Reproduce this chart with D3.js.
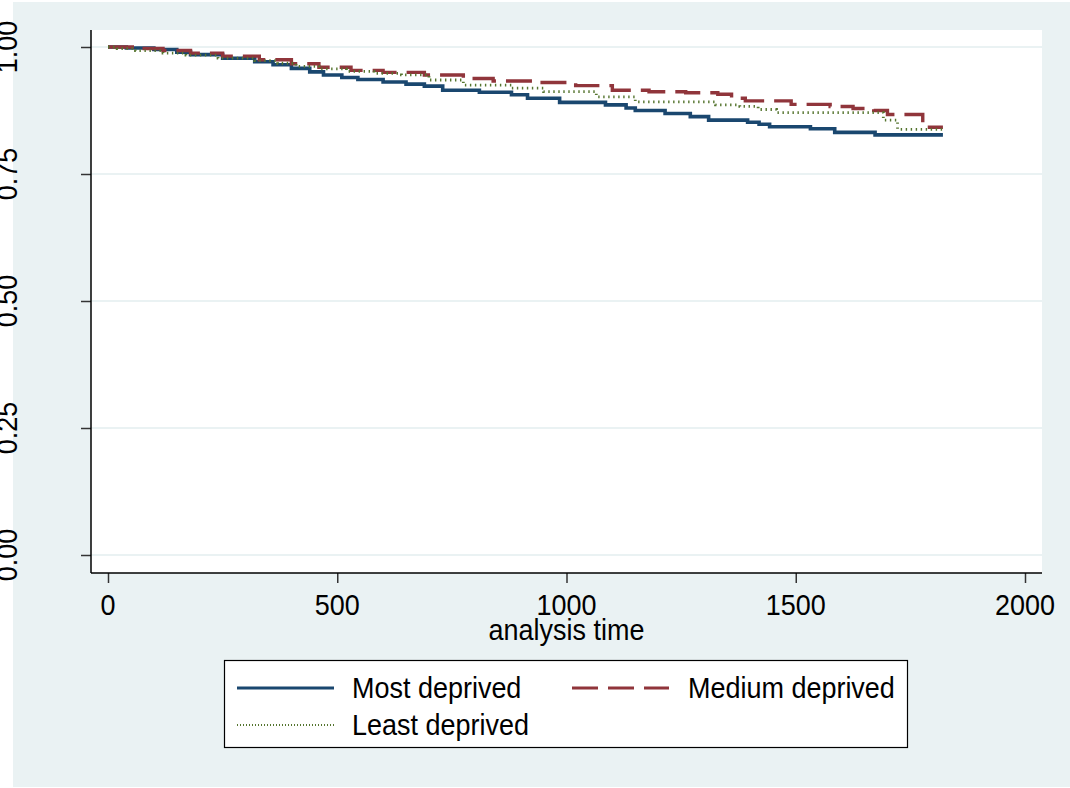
<!DOCTYPE html>
<html>
<head>
<meta charset="utf-8">
<script src="https://cdn.jsdelivr.net/npm/d3@7/dist/d3.min.js"></script>
<style>
  html, body { margin: 0; padding: 0; background: #ffffff; }
  svg { display: block; }
  text { font-family: "Liberation Sans", Arial, sans-serif; fill: #000; }
</style>
</head>
<body>
<svg id="chart" width="1070" height="788"></svg>
<script>
// ---- Data (Kaplan-Meier step estimates) ----
const xTicks = [0, 500, 1000, 1500, 2000];
const yTicks = [0, 0.25, 0.5, 0.75, 1];
const yTickLabels = ["0.00", "0.25", "0.50", "0.75", "1.00"];
const xLabel = "analysis time";
const seriesNames = ["Most deprived", "Medium deprived", "Least deprived"];
const endTime = 1821;

const mostTime = [0, 40, 100, 150, 180, 250, 320, 360, 400, 440, 470, 510, 545, 600, 650, 690, 730, 810, 880, 915, 985, 1085, 1130, 1150, 1215, 1270, 1310, 1395, 1420, 1443, 1532, 1585, 1673];
const mostSurv = [1.0, 0.998, 0.995, 0.990, 0.985, 0.978, 0.971, 0.965, 0.958, 0.951, 0.945, 0.940, 0.936, 0.931, 0.927, 0.923, 0.915, 0.911, 0.906, 0.899, 0.891, 0.886, 0.880, 0.875, 0.869, 0.863, 0.856, 0.852, 0.848, 0.843, 0.839, 0.832, 0.827];

const medTime = [0, 60, 120, 180, 250, 330, 400, 460, 530, 600, 690, 775, 840, 930, 1020, 1100, 1180, 1260, 1330, 1360, 1390, 1490, 1575, 1625, 1670, 1700, 1777];
const medSurv = [1.0, 0.997, 0.993, 0.988, 0.982, 0.975, 0.967, 0.960, 0.954, 0.950, 0.945, 0.938, 0.933, 0.930, 0.924, 0.915, 0.912, 0.910, 0.907, 0.899, 0.894, 0.887, 0.883, 0.879, 0.875, 0.867, 0.842];

const leastTime = [0, 20, 60, 120, 170, 240, 320, 370, 410, 460, 520, 580, 640, 700, 775, 880, 950, 1065, 1150, 1325, 1378, 1418, 1458, 1691, 1722];
const leastSurv = [1.0, 0.997, 0.993, 0.988, 0.984, 0.978, 0.973, 0.968, 0.962, 0.957, 0.952, 0.948, 0.945, 0.935, 0.925, 0.919, 0.912, 0.902, 0.892, 0.886, 0.883, 0.877, 0.871, 0.856, 0.838];

// ---- Layout ----
const svg = d3.select("#chart");
const FS = 29, SX = 0.93;
const plot = { left: 91, right: 1042, top: 30, bottom: 573 };

const x = d3.scaleLinear().domain([0, 2000]).range([108, 1025]);
const y = d3.scaleLinear().domain([0, 1]).range([555, 47]);

// outer background
svg.append("rect").attr("x", 13).attr("y", 2).attr("width", 1057).attr("height", 785).attr("fill", "#eaf2f3");
// plot region
svg.append("rect").attr("x", plot.left).attr("y", plot.top)
  .attr("width", plot.right - plot.left).attr("height", plot.bottom - plot.top).attr("fill", "#ffffff");

// grid lines
svg.append("g").selectAll("line").data(yTicks).join("line")
  .attr("x1", plot.left).attr("x2", plot.right)
  .attr("y1", d => y(d)).attr("y2", d => y(d))
  .attr("stroke", "#eaf2f3").attr("stroke-width", 2);

function addText(g, str, tx, ty, anchor, rot) {
  return g.append("text")
    .attr("transform", `translate(${tx},${ty})` + (rot ? ` rotate(${rot})` : "") + ` scale(${SX},1)`)
    .attr("text-anchor", anchor)
    .style("font-size", FS + "px")
    .text(str);
}

// y axis
const yAxis = d3.axisLeft(y).tickValues(yTicks).tickSize(10).tickFormat("");
const gy = svg.append("g").attr("transform", `translate(${plot.left},0)`).call(yAxis);
gy.select(".domain").remove();
gy.selectAll(".tick line").attr("stroke", "#333").attr("stroke-width", 1.5);
svg.append("line").attr("x1", plot.left).attr("x2", plot.left).attr("y1", plot.top).attr("y2", plot.bottom)
  .attr("stroke", "#000").attr("stroke-width", 1.5);
const gyl = svg.append("g");
yTicks.forEach((v, i) => addText(gyl, yTickLabels[i], 17, y(v), "middle", -90));

// x axis
const xAxis = d3.axisBottom(x).tickValues(xTicks).tickSize(10).tickFormat("");
const gx = svg.append("g").attr("transform", `translate(0,${plot.bottom})`).call(xAxis);
gx.select(".domain").remove();
gx.selectAll(".tick line").attr("stroke", "#333").attr("stroke-width", 1.5);
svg.append("line").attr("x1", plot.left).attr("x2", plot.right).attr("y1", plot.bottom).attr("y2", plot.bottom)
  .attr("stroke", "#000").attr("stroke-width", 1.5);
const gxl = svg.append("g");
xTicks.forEach(v => addText(gxl, String(v), x(v), 615, "middle", 0));
addText(gxl, xLabel, x(1000), 640, "middle", 0);

// ---- Curves ----
const styles = [
  { color: "#1a476f", width: 3.6, dash: null },
  { color: "#90353b", width: 3.4, dash: "26,10" },
  { color: "#55752f", width: 2.8, dash: "1.4,3.6" }
];
function toPts(ts, ss) {
  const pts = ts.map((t, i) => [t, ss[i]]);
  pts.push([endTime, ss[ss.length - 1]]);
  return pts;
}
const series = [toPts(mostTime, mostSurv), toPts(medTime, medSurv), toPts(leastTime, leastSurv)];
const line = d3.line().x(d => x(d[0])).y(d => y(d[1])).curve(d3.curveStepAfter);
const gc = svg.append("g");
series.forEach((pts, i) => {
  const st = styles[i];
  gc.append("path").datum(pts).attr("d", line)
    .attr("fill", "none").attr("stroke", st.color).attr("stroke-width", st.width)
    .attr("stroke-dasharray", st.dash);
});

// ---- Legend ----
const lg = svg.append("g");
lg.append("rect").attr("x", 224.5).attr("y", 660.5).attr("width", 683).attr("height", 87)
  .attr("fill", "#ffffff").attr("stroke", "#000").attr("stroke-width", 1.2);
const legendPos = [
  { sx: 237, tx: 352, cy: 688 },
  { sx: 572, tx: 688, cy: 688 },
  { sx: 237, tx: 352, cy: 725 }
];
seriesNames.forEach((name, i) => {
  const p = legendPos[i], st = styles[i];
  lg.append("line").attr("x1", p.sx).attr("x2", p.sx + 97).attr("y1", p.cy).attr("y2", p.cy)
    .attr("stroke", st.color).attr("stroke-width", i === 2 ? 2 : 3)
    .attr("stroke-dasharray", i === 2 ? "1,2" : st.dash);
  addText(lg, name, p.tx, p.cy + 10, "start", 0);
});
</script>
</body>
</html>
